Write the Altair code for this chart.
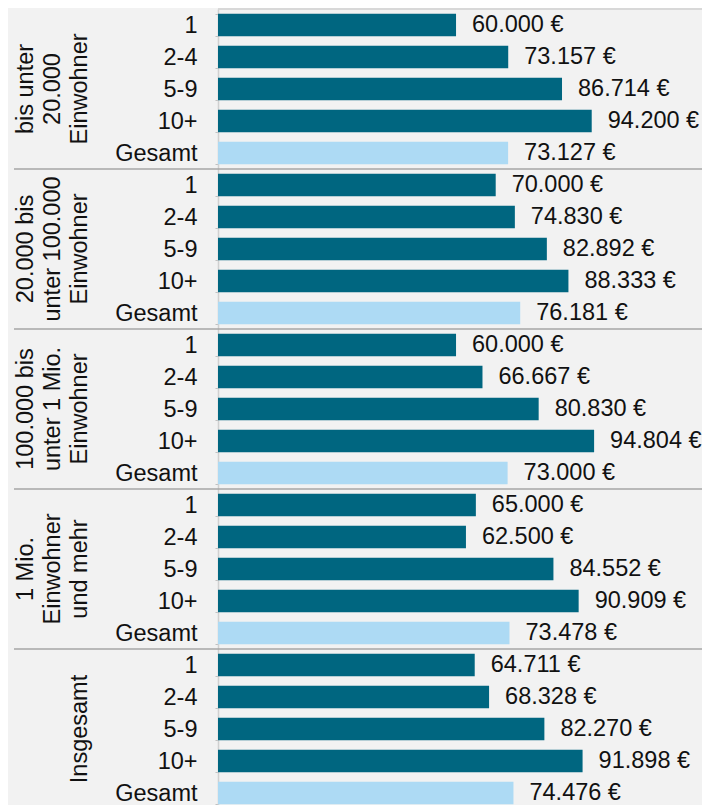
import altair as alt
import pandas as pd

groups = [
    "bis unter|20.000|Einwohner",
    "20.000 bis|unter 100.000|Einwohner",
    "100.000 bis|unter 1 Mio.|Einwohner",
    "1 Mio.|Einwohner|und mehr",
    "Insgesamt",
]
sizes = ["1", "2-4", "5-9", "10+", "Gesamt"]
values = [
    [60000, 73157, 86714, 94200, 73127],
    [70000, 74830, 82892, 88333, 76181],
    [60000, 66667, 80830, 94804, 73000],
    [65000, 62500, 84552, 90909, 73478],
    [64711, 68328, 82270, 91898, 74476],
]

rows = []
for gi, g in enumerate(groups):
    for si, s in enumerate(sizes):
        v = values[gi][si]
        rows.append({
            "key": f"{gi}|{s}",
            "gi": gi,
            "group": g,
            "size": s,
            "value": v,
            "kind": "total" if s == "Gesamt" else "sub",
            "label": f"{v:,}".replace(",", ".") + " €",
        })
df = pd.DataFrame(rows)
keys = list(df["key"])

W, H = 484, 800
N = len(keys)
step = H / N
PI = 0.3
PO = PI / 2
FONT = "Liberation Sans"
FS = 23.5
TXT = "#111111"

yscale = alt.Scale(paddingInner=PI, paddingOuter=PO)

yenc = alt.Y(
    "key:N",
    sort=keys,
    scale=yscale,
    axis=alt.Axis(
        title=None,
        labelExpr="split(datum.value, '|')[1]",
        labelFontSize=FS,
        labelFont=FONT,
        labelColor=TXT,
        labelPadding=18,
        tickSize=3,
        tickColor="#c0c0c0",
        tickBand="extent",
        domainColor="#d0d0d0",
        domainWidth=1.5,
        grid=False,
    ),
)

base = alt.Chart(df)

bars = base.mark_bar().encode(
    y=yenc,
    x=alt.X("value:Q", scale=alt.Scale(domain=[0, 122000], nice=False), axis=None),
    color=alt.Color(
        "kind:N",
        scale=alt.Scale(domain=["sub", "total"], range=["#006680", "#ADDAF4"]),
        legend=None,
    ),
)

labels = base.mark_text(
    align="left", baseline="middle", dx=16, fontSize=FS, font=FONT, color=TXT
).encode(
    y=alt.Y("key:N", sort=keys),
    x="value:Q",
    text="label:N",
)

group_multi = base.transform_filter("datum.size == '5-9' && datum.gi < 4").mark_text(
    angle=270,
    align="center",
    baseline="alphabetic",
    lineBreak="|",
    lineHeight=27,
    fontSize=FS,
    font=FONT,
    color=TXT,
).encode(
    y=alt.Y("key:N", sort=keys),
    x=alt.value(-185),
    text="group:N",
)

group_single = base.transform_filter("datum.size == '5-9' && datum.gi == 4").mark_text(
    angle=270,
    align="center",
    baseline="alphabetic",
    fontSize=FS,
    font=FONT,
    color=TXT,
).encode(
    y=alt.Y("key:N", sort=keys),
    x=alt.value(-131),
    text="group:N",
)

sep = base.transform_filter("datum.size == '1' && datum.gi > 0").mark_rule(
    color="#a6a6a6", strokeWidth=1.5, yOffset=-PO * step
).encode(
    y=alt.Y("key:N", sort=keys, bandPosition=0),
    x=alt.value(-204),
    x2=alt.value(W),
)

top = base.transform_filter("datum.size == '1' && datum.gi == 0").mark_rule(
    color="#cfcfcf", strokeWidth=1.5, yOffset=-PO * step
).encode(
    y=alt.Y("key:N", sort=keys, bandPosition=0),
    x=alt.value(0),
    x2=alt.value(W),
)

chart = alt.layer(bars, labels, group_multi, group_single, sep, top).properties(
    width=W,
    height=H,
    autosize=alt.AutoSizeParams(type="none"),
    padding={"left": 210, "top": 1, "right": 0, "bottom": 0},
    background="#f2f2f2",
).configure_view(stroke=None)

chart.save("out.html", embed_options={"renderer": "svg", "actions": False})
